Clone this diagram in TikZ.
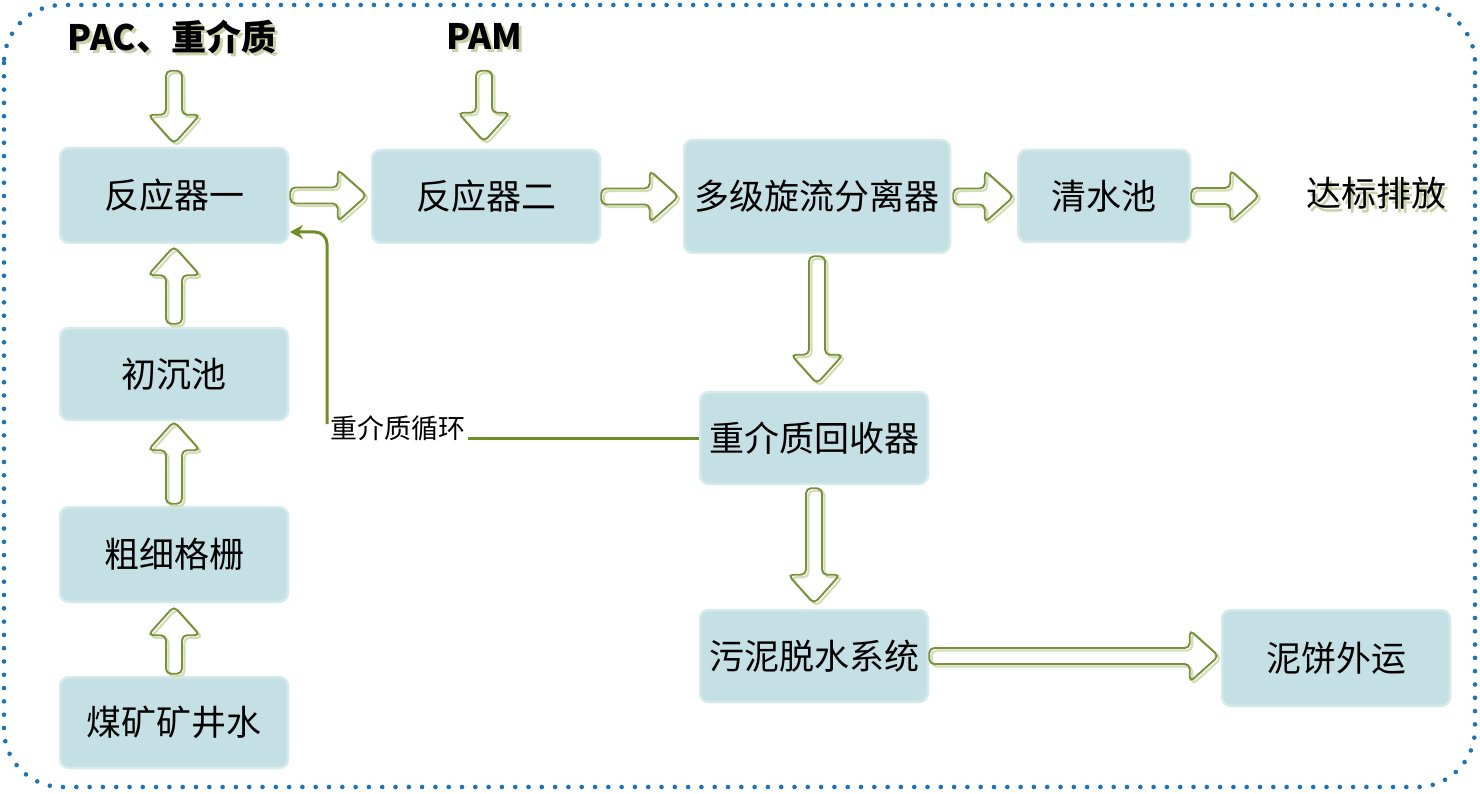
\documentclass[tikz,border=0pt]{standalone}
\usepackage{fontspec}
\setmainfont{Noto Sans CJK SC}
\usetikzlibrary{calc,arrows.meta}
\definecolor{boxfill}{HTML}{C5E0E4}
\definecolor{boxedge}{HTML}{D6EAEC}
\definecolor{arrgreen}{HTML}{76923C}
\definecolor{arrshade}{HTML}{D5DDB6}
\definecolor{bordblue}{HTML}{1F72B6}
\definecolor{recgreen}{HTML}{6E8F25}
\definecolor{txtshade}{HTML}{C9D1A8}
\def\arsw{8pt}
\def\arhw{26pt}
\def\arhl{29pt}
\newcommand\harrpath[2]{let \p1=(#1), \p2=(#2), \p3=($(#2)!\arhl!(#1)$) in
 (\x1,\y1+\arsw) -- (\x3,\y1+\arsw) -- (\x3,\y1+\arhw) -- (\x2,\y1) -- (\x3,\y1-\arhw) -- (\x3,\y1-\arsw) -- (\x1,\y1-\arsw) -- cycle}
\newcommand\varrpath[2]{let \p1=(#1), \p2=(#2), \p3=($(#2)!\arhl!(#1)$) in
 (\x1+\arsw,\y1) -- (\x1+\arsw,\y3) -- (\x1+\arhw,\y3) -- (\x1,\y2) -- (\x1-\arhw,\y3) -- (\x1-\arsw,\y3) -- (\x1-\arsw,\y1) -- cycle}
\newcommand\harr[2]{\draw[ashadow] \harrpath{#1}{#2}; \draw[aline] \harrpath{#1}{#2};}
\newcommand\varr[2]{\draw[ashadow] \varrpath{#1}{#2}; \draw[aline] \varrpath{#1}{#2};}
\begin{document}
\begin{tikzpicture}[x=1pt,y=-1pt,
 box/.style={rounded corners=9pt, fill=boxfill, draw=boxedge, line width=2.5pt,
   minimum width=228pt, inner sep=0pt, font=\fontsize{35}{35}\selectfont},
 aline/.style={draw=arrgreen, line width=1.9pt, rounded corners=5pt},
 ashadow/.style={draw=arrshade, line width=2.2pt, rounded corners=5pt,
   transform canvas={shift={(2.5pt,-2.5pt)}}},
 lab/.style={font=\fontsize{35}{35}\selectfont\bfseries, inner sep=0pt},
 labshade/.style={lab, text=txtshade},
 recyc/.style={draw=recgreen, line width=3pt},
 border/.style={draw=bordblue, line width=4.6pt, line cap=round,
   dash pattern=on 0pt off 13.3pt, rounded corners=58pt}]
\useasboundingbox (0,0) rectangle (1480,794);
\draw[border] (4,5) rectangle (1475,787);

% top labels
\node[labshade] at (175,40) {PAC、重介质};
\node[lab] (pac) at (172,37) {PAC、重介质};
\node[labshade] at (487,39) {PAM};
\node[lab] (pam) at (484,36) {PAM};
\node[font=\fontsize{35}{35}\selectfont, text=txtshade, inner sep=0pt] at (1379,197) {达标排放};
\node[font=\fontsize{35}{35}\selectfont, inner sep=0pt] (out) at (1376,193) {达标排放};

% boxes
\node[box, minimum height=95pt] (r1) at (174,195.5) {反应器一};
\node[box, minimum height=92pt] (s1) at (174,374) {初沉池};
\node[box, minimum height=95pt] (grid) at (174,554.5) {粗细格栅};
\node[box, minimum height=91pt] (src) at (174,722.5) {煤矿矿井水};
\node[box, minimum height=93pt] (r2) at (486,196.5) {反应器二};
\node[box, minimum width=266pt, minimum height=113pt] (sep) at (817,196.5) {多级旋流分离器};
\node[box, minimum width=172pt, minimum height=92pt] (clr) at (1104,196) {清水池};
\node[box, minimum height=92pt] (rec) at (814,438) {重介质回收器};
\node[box, minimum height=92pt] (sld) at (814,656) {污泥脱水系统};
\node[box, minimum height=96pt] (cake) at (1336,658) {泥饼外运};

% hollow arrows
\varr{$(r1.north)+(0pt,76pt)$}{$(r1.north)+(0pt,3pt)$}
\varr{$(r2.north)+(-2pt,78pt)$}{$(r2.north)+(-2pt,7pt)$}
\varr{$(s1.north)+(0pt,3pt)$}{$(r1.south)+(0pt,-2pt)$}
\varr{$(grid.north)+(0pt,2pt)$}{$(s1.south)+(0pt,0pt)$}
\varr{$(src.north)+(0pt,2pt)$}{$(grid.south)+(0pt,-3pt)$}
\harr{$(r1.east)+(1pt,0pt)$}{$(r2.west)+(-4pt,0pt)$}
\harr{$(r2.east)+(0pt,0pt)$}{$(sep.west)+(-4pt,-1pt)$}
\harr{$(sep.east)+(2pt,0pt)$}{$(clr.west)+(-3pt,0pt)$}
\harr{$(clr.east)+(0pt,0pt)$}{$(clr.east)+(68pt,0pt)$}
\varr{$(sep.south)+(0pt,-2pt)$}{$(rec.north)+(3pt,7pt)$}
\varr{$(rec.south)+(0pt,-3pt)$}{$(sld.north)+(0pt,5pt)$}
\harr{$(sld.east)+(0pt,0pt)$}{$(cake.west)+(-2pt,2pt)$}

% recycle line
\node[font=\fontsize{27}{27}\selectfont, inner sep=2pt] (rlab) at (398,428) {重介质循环};
\coordinate (rc1) at (327,424);
\coordinate (rc2) at (290,232);
\draw[recyc] (rec.west) -- (rec.west -| rlab.east);
\draw[recyc, rounded corners=12pt, -{Stealth[length=13pt,width=14pt]}] (rc1) |- (rc2);
\end{tikzpicture}
\end{document}
